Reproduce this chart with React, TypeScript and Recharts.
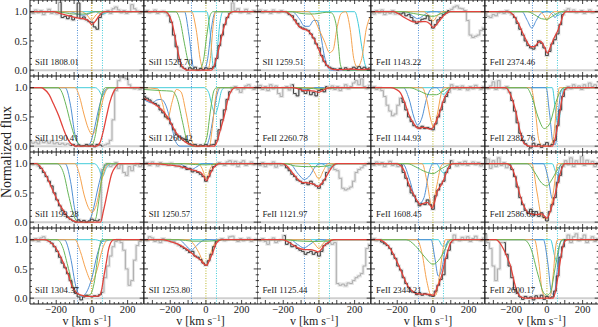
import React from 'react';
import { LineChart, Line, XAxis, YAxis, ReferenceLine } from 'recharts';

// velocity grid of the binned spectra (km/s)
const V_GRID = [-345, -330, -315, -300, -285, -270, -255, -240, -225, -210, -195, -180, -165, -150, -135, -120, -105, -90, -75, -60, -45, -30, -15, 0, 15, 30, 45, 60, 75, 90, 105, 120, 135, 150, 165, 180, 195, 210, 225, 240, 255, 270, 285];

const LABELS = [
  'SiII 1808.01', 'SiII 1526.70', 'SII 1259.51', 'FeII 1143.22', 'FeII 2374.46',
  'SiII 1190.41', 'SiII 1260.42', 'FeII 2260.78', 'FeII 1144.93', 'FeII 2382.76',
  'SiII 1193.28', 'SII 1250.57', 'FeII 1121.97', 'FeII 1608.45', 'FeII 2586.65',
  'SiII 1304.37', 'SII 1253.80', 'FeII 1125.44', 'FeII 2344.21', 'FeII 2600.17',
];

// fitted velocity window per panel (dark part of the spectrum)
const FIT = [
  [-190, 70], [-220, 135], [-190, 285], [-200, 100], [-200, 100],
  [-130, 60], [-345, 140], [-160, 50], [-190, 100], [-220, 110],
  [-310, 50], [-140, 60], [-200, 55], [-190, 110], [-220, 100],
  [-250, 60], [-160, 60], [-200, 60], [-300, 115], [-250, 110],
];

// component centres (dotted markers)
const V_BLUE = -81;
const V_ZERO = 0;
const V_CYAN = 59;

const X_DOMAIN: [number, number] = [-347, 290];
const Y_DOMAIN: [number, number] = [-0.1, 1.2];
const X_MAJOR = [-300, -200, -100, 0, 100, 200];
const X_TICKS = [-325, -300, -275, -250, -225, -200, -175, -150, -125, -100, -75, -50, -25, 0, 25, 50, 75, 100, 125, 150, 175, 200, 225, 250, 275];
const X_LABELED = [-200, 0, 200];
const Y_MAJOR = [0, 0.5, 1];
const Y_TICKS = [0, 0.1, 0.2, 0.3, 0.4, 0.5, 0.6, 0.7, 0.8, 0.9, 1, 1.1];

const FLUX_1 = [1.0, 0.97, 1.03, 0.98, 1.02, 0.95, 1.0, 1.04, 0.97, 1.0, 0.96, 1.16, 0.9, 0.92, 0.88, 0.93, 0.86, 0.9, 1.15, 0.88, 0.91, 0.86, 0.83, 0.82, 0.74, 0.7, 0.9, 0.96, 1.0, 1.02, 0.97, 1.05, 1.08, 1.03, 0.98, 1.02, 0.97, 1.0, 1.12, 1.05, 1.01, 0.97, 1.0];
const FLUX_2 = [1.0, 1.02, 0.98, 1.0, 1.03, 0.97, 1.0, 1.01, 0.98, 0.93, 0.82, 0.6, 0.4, 0.18, 0.06, 0.03, 0.0, 0.04, 0.02, 0.05, 0.0, 0.03, 0.01, 0.04, 0.02, 0.03, 0.06, 0.2, 0.42, 0.6, 0.78, 0.9, 0.97, 1.15, 1.02, 1.05, 0.98, 1.0, 1.04, 0.97, 1.0, 1.02, 0.99];
const FLUX_3 = [1.0, 1.03, 0.98, 1.02, 1.0, 0.97, 1.03, 1.0, 0.98, 1.02, 1.0, 0.98, 0.95, 0.93, 0.86, 0.8, 0.74, 0.72, 0.7, 0.68, 0.62, 0.55, 0.45, 0.38, 0.25, 0.15, 0.08, 0.05, 0.03, 0.02, 0.0, 0.03, 0.01, 0.04, 0.0, 0.02, 0.05, 0.03, 0.06, 0.03, 0.05, 0.02, 0.04];
const FLUX_4 = [1.0, 0.96, 1.02, 0.98, 1.03, 0.95, 1.0, 0.97, 1.02, 0.96, 0.97, 0.96, 0.98, 0.93, 0.95, 0.9, 0.84, 0.8, 0.83, 0.87, 0.88, 0.93, 0.85, 0.72, 0.78, 0.86, 0.9, 0.95, 0.98, 1.02, 1.04, 1.08, 1.1, 1.06, 1.05, 1.02, 0.85, 0.6, 0.56, 0.58, 0.6, 0.68, 0.72];
const FLUX_5 = [0.97, 0.92, 0.9, 0.95, 0.93, 0.98, 1.0, 0.97, 1.02, 0.98, 0.95, 0.9, 0.8, 0.7, 0.6, 0.5, 0.42, 0.38, 0.36, 0.42, 0.5, 0.46, 0.38, 0.25, 0.32, 0.45, 0.52, 0.62, 0.78, 0.95, 1.02, 1.05, 1.0, 1.03, 0.98, 1.0, 1.02, 0.97, 1.0, 1.03, 0.98, 1.0, 1.01];
const FLUX_6 = [0.08, 0.05, 0.07, 0.04, 0.1, 0.06, 0.08, 0.05, 0.09, 0.04, 0.06, 0.03, 0.05, 0.02, 0.04, 0.01, 0.03, 0.0, 0.02, 0.0, 0.01, 0.03, 0.0, 0.02, -0.01, 0.03, 0.02, 0.0, 0.02, 0.04, 0.1, 0.45, 0.95, 1.12, 1.18, 1.17, 1.15, 1.05, 1.0, 0.98, 1.0, 0.97, 1.0];
const FLUX_7 = [0.85, 0.82, 0.79, 0.75, 0.73, 0.7, 0.62, 0.57, 0.5, 0.47, 0.38, 0.28, 0.2, 0.16, 0.14, 0.12, 0.08, 0.04, 0.02, 0.03, 0.0, 0.02, 0.01, 0.03, 0.0, 0.02, 0.03, 0.1, 0.28, 0.45, 0.62, 0.8, 0.93, 1.0, 1.02, 0.97, 0.92, 0.98, 1.03, 1.05, 1.0, 0.97, 1.02];
const FLUX_8 = [1.0, 1.04, 0.97, 1.02, 0.95, 1.05, 0.98, 1.03, 0.9, 0.85, 1.0, 1.02, 0.96, 1.05, 0.9, 0.86, 0.98, 0.94, 0.9, 0.96, 0.88, 0.92, 0.86, 0.95, 0.97, 0.93, 1.02, 0.98, 1.03, 0.97, 1.02, 0.95, 1.0, 1.05, 0.98, 1.02, 1.08, 1.12, 1.05, 1.15, 1.02, 0.98, 1.04];
const FLUX_9 = [1.0, 1.02, 0.97, 1.0, 0.95, 0.85, 0.7, 0.6, 0.52, 0.55, 0.7, 0.82, 0.75, 0.62, 0.5, 0.42, 0.35, 0.33, 0.3, 0.34, 0.3, 0.32, 0.3, 0.28, 0.38, 0.5, 0.62, 0.75, 0.85, 0.92, 1.05, 0.98, 1.02, 0.97, 1.03, 1.0, 0.96, 1.02, 0.98, 1.04, 1.0, 0.97, 1.02];
const FLUX_10 = [1.0, 0.98, 1.03, 1.1, 0.97, 1.12, 1.0, 0.98, 1.02, 0.92, 0.78, 0.6, 0.4, 0.22, 0.1, 0.04, 0.0, -0.03, 0.05, 0.0, 0.03, -0.02, 0.02, 0.06, 0.0, 0.03, 0.1, 0.35, 0.62, 0.85, 0.97, 1.02, 0.98, 1.05, 1.0, 1.03, 0.97, 1.05, 1.0, 1.08, 1.02, 1.05, 1.0];
const FLUX_11 = [1.0, 0.98, 1.0, 0.96, 0.92, 0.85, 0.78, 0.7, 0.62, 0.5, 0.38, 0.28, 0.2, 0.13, 0.08, 0.05, 0.02, 0.0, 0.04, 0.01, 0.03, 0.0, 0.02, 0.05, 0.03, 0.02, 0.04, 0.9, 0.98, 1.0, 0.95, 0.98, 1.02, 0.92, 0.98, 0.85, 0.8, 0.95, 0.88, 0.97, 1.0, 0.95, 0.98];
const FLUX_12 = [1.0, 1.02, 0.97, 1.03, 1.0, 0.96, 1.02, 0.98, 1.0, 0.97, 1.01, 0.98, 0.95, 0.97, 0.93, 0.95, 0.9, 0.92, 0.86, 0.88, 0.85, 0.82, 0.78, 0.7, 0.78, 0.88, 0.95, 0.98, 1.02, 1.0, 0.97, 1.03, 1.05, 0.98, 1.04, 0.95, 1.02, 1.05, 0.97, 1.0, 1.03, 0.98, 1.0];
const FLUX_13 = [1.0, 0.97, 1.02, 0.95, 1.0, 0.98, 1.03, 0.94, 1.0, 0.97, 0.98, 0.93, 0.88, 0.82, 0.78, 0.72, 0.7, 0.66, 0.68, 0.64, 0.7, 0.65, 0.62, 0.58, 0.65, 0.72, 0.85, 0.92, 0.95, 0.9, 0.88, 0.75, 0.58, 0.55, 0.57, 0.6, 0.7, 0.85, 0.9, 0.93, 0.97, 1.0, 1.02];
const FLUX_14 = [1.0, 0.97, 1.03, 0.98, 1.02, 0.95, 1.0, 1.04, 0.97, 1.0, 0.95, 0.98, 0.85, 0.75, 0.62, 0.5, 0.45, 0.35, 0.28, 0.32, 0.3, 0.38, 0.3, 0.22, 0.45, 0.55, 0.65, 0.7, 0.85, 0.92, 1.05, 1.0, 0.96, 1.02, 0.98, 1.04, 0.97, 1.0, 1.03, 0.98, 1.02, 0.96, 1.0];
const FLUX_15 = [1.0, 1.08, 0.92, 1.05, 0.95, 1.1, 0.97, 1.02, 0.93, 0.98, 0.9, 0.78, 0.6, 0.42, 0.3, 0.2, 0.15, 0.22, 0.12, 0.18, 0.1, 0.16, 0.08, 0.02, 0.18, 0.3, 0.42, 0.68, 0.8, 0.95, 1.05, 0.98, 1.1, 0.95, 1.05, 1.0, 1.12, 0.97, 1.06, 1.0, 1.04, 0.95, 1.02];
const FLUX_16 = [1.0, 0.98, 1.02, 0.97, 1.03, 1.05, 1.0, 0.97, 0.94, 0.88, 0.8, 0.7, 0.6, 0.52, 0.42, 0.3, 0.18, 0.08, 0.02, -0.03, 0.02, 0.05, 0.03, 0.02, 0.04, 0.03, 0.06, 0.1, 0.35, 0.55, 0.72, 0.88, 0.97, 1.0, 0.95, 0.82, 0.5, 0.22, 0.3, 0.65, 0.9, 0.97, 1.0];
const FLUX_17 = [1.0, 0.98, 1.05, 1.03, 0.97, 1.0, 0.95, 1.02, 0.98, 1.0, 0.96, 0.97, 0.93, 0.9, 0.88, 0.85, 0.82, 0.78, 0.8, 0.72, 0.7, 0.66, 0.6, 0.56, 0.64, 0.75, 0.88, 0.97, 1.0, 1.02, 0.98, 1.0, 1.05, 1.06, 1.0, 0.97, 1.02, 0.98, 1.0, 1.03, 0.97, 1.0, 1.01];
const FLUX_18 = [1.0, 0.98, 1.02, 0.97, 0.92, 1.0, 1.03, 0.95, 0.98, 1.0, 1.07, 0.92, 0.95, 0.88, 0.9, 0.85, 0.82, 0.8, 0.75, 0.78, 0.8, 0.75, 0.78, 0.72, 0.8, 0.9, 0.93, 0.95, 0.92, 0.95, 0.25, 0.22, 0.24, 0.21, 0.26, 0.25, 0.3, 0.35, 0.38, 0.42, 0.55, 0.85, 0.92];
const FLUX_19 = [1.0, 1.02, 0.98, 1.0, 0.96, 0.93, 0.9, 0.85, 0.75, 0.68, 0.55, 0.48, 0.35, 0.25, 0.18, 0.12, 0.1, 0.06, 0.09, 0.05, 0.08, 0.06, 0.04, 0.03, 0.12, 0.22, 0.32, 0.4, 0.68, 0.82, 0.95, 1.08, 1.0, 0.98, 1.04, 1.0, 1.05, 0.97, 1.02, 1.06, 1.0, 0.98, 1.03];
const FLUX_20 = [1.08, 0.95, 0.85, 0.55, 0.3, 0.5, 0.95, 0.95, 0.75, 0.55, 0.35, 0.15, 0.08, 0.02, -0.02, 0.03, 0.0, 0.02, -0.03, 0.04, 0.0, 0.05, -0.02, 0.03, 0.0, 0.02, 0.12, 0.38, 0.7, 0.88, 1.0, 1.08, 0.95, 1.05, 1.1, 0.98, 1.02, 1.08, 0.95, 1.0, 1.05, 0.97, 1.02];

// total model (red) and components, as [velocity, flux] pairs
const RED_1 = [[-350, 1], [-215, 1], [-180, 0.97], [-130, 0.93], [-91, 0.9], [-50, 0.88], [-20, 0.85], [-2, 0.78], [20, 0.84], [40, 0.93], [60, 0.99], [75, 1], [295, 1]];
const GREEN_1 = [[-350, 1], [-200, 1], [-150, 0.98], [-100, 0.96], [-50, 0.96], [-10, 0.98], [20, 1], [295, 1]];
const ORANGE_1 = [[-350, 1], [-60, 1], [-30, 0.95], [-2, 0.86], [25, 0.95], [50, 1], [295, 1]];
const BLUE_1 = [[-350, 1], [-120, 1], [-85, 0.96], [-50, 0.94], [-20, 0.96], [10, 1], [295, 1]];
const CYAN_1 = [[-350, 1], [20, 1], [45, 0.97], [60, 0.96], [80, 0.98], [100, 1], [295, 1]];

const RED_2 = [[-350, 1], [-230, 1], [-205, 0.93], [-185, 0.75], [-169, 0.5], [-150, 0.22], [-132, 0.05], [-115, 0.01], [-100, 0], [30, 0], [40, 0.03], [55, 0.16], [70, 0.34], [84, 0.52], [100, 0.72], [120, 0.9], [140, 0.99], [155, 1], [295, 1]];
const GREEN_2 = [[-350, 1], [-170, 1], [-145, 0.85], [-120, 0.45], [-95, 0.1], [-70, 0.01], [-40, 0], [-15, 0.15], [5, 0.6], [25, 0.95], [40, 1], [295, 1]];
const ORANGE_2 = [[-350, 1], [-80, 1], [-55, 0.7], [-30, 0.15], [-10, 0], [10, 0], [25, 0.2], [40, 0.75], [55, 1], [295, 1]];
const BLUE_2 = [[-350, 1], [-120, 1], [-95, 0.6], [-70, 0.05], [-50, 0], [-10, 0], [10, 0.2], [30, 0.7], [45, 0.95], [55, 1], [295, 1]];
const CYAN_2 = [[-350, 1], [5, 1], [25, 0.6], [40, 0.08], [50, 0.03], [62, 0.3], [78, 0.8], [95, 1], [295, 1]];

const RED_3 = [[-350, 1], [-190, 1], [-165, 0.96], [-140, 0.87], [-115, 0.76], [-95, 0.71], [-70, 0.69], [-50, 0.64], [-25, 0.52], [-3, 0.37], [15, 0.24], [35, 0.12], [55, 0.05], [81, 0.01], [120, 0.01], [180, 0.02], [230, 0.01], [295, 0.02]];
const GREEN_3 = [[-350, 1], [-150, 1], [-100, 0.97], [-50, 0.96], [0, 0.97], [40, 0.99], [70, 0.98], [95, 0.8], [110, 0.4], [120, 0.1], [135, 0], [295, 0]];
const ORANGE_3 = [[-350, 1], [-60, 1], [-30, 0.9], [0, 0.7], [30, 0.5], [60, 0.3], [80, 0.35], [100, 0.7], [125, 0.97], [150, 1], [175, 0.7], [195, 0.2], [215, 0.05], [240, 0.2], [265, 0.7], [295, 0.95]];
const BLUE_3 = [[-350, 1], [-150, 1], [-110, 0.88], [-80, 0.75], [-55, 0.75], [-30, 0.85], [-10, 0.85], [10, 0.6], [30, 0.25], [50, 0.05], [70, 0], [295, 0]];
const CYAN_3 = [[-350, 1], [200, 1], [220, 0.8], [240, 0.4], [258, 0.1], [270, 0.02], [295, 0]];

const RED_4 = [[-350, 1], [-220, 1], [-190, 0.96], [-160, 0.9], [-130, 0.85], [-100, 0.82], [-70, 0.83], [-40, 0.83], [-20, 0.8], [4, 0.73], [25, 0.8], [45, 0.88], [70, 0.96], [98, 1], [295, 1]];
const GREEN_4 = [[-350, 1], [-170, 1], [-110, 0.97], [-50, 0.94], [0, 0.92], [40, 0.96], [80, 1], [295, 1]];
const ORANGE_4 = [[-350, 1], [-50, 1], [-25, 0.94], [0, 0.84], [25, 0.93], [50, 1], [295, 1]];
const BLUE_4 = [[-350, 1], [-150, 1], [-115, 0.93], [-85, 0.88], [-55, 0.93], [-25, 0.99], [0, 1], [295, 1]];
const CYAN_4 = [[-350, 1], [20, 1], [45, 0.97], [60, 0.96], [80, 0.98], [100, 1], [295, 1]];

const RED_5 = [[-350, 1], [-215, 1], [-190, 0.95], [-160, 0.8], [-130, 0.6], [-105, 0.45], [-90, 0.4], [-70, 0.4], [-50, 0.47], [-35, 0.49], [-15, 0.4], [3, 0.29], [20, 0.4], [40, 0.55], [60, 0.67], [78, 0.82], [95, 0.97], [110, 1], [295, 1]];
const GREEN_5 = [[-350, 1], [-110, 1], [-70, 0.95], [-30, 0.88], [0, 0.87], [30, 0.92], [70, 0.99], [90, 1], [295, 1]];
const ORANGE_5 = [[-350, 1], [-40, 1], [-20, 0.95], [0, 0.86], [20, 0.95], [40, 1], [295, 1]];
const BLUE_5 = [[-350, 1], [-140, 1], [-110, 0.85], [-85, 0.72], [-60, 0.85], [-30, 0.98], [0, 1], [30, 0.96], [45, 0.9], [60, 0.95], [80, 1], [295, 1]];
const CYAN_5 = [[-350, 1], [30, 1], [50, 0.95], [60, 0.93], [75, 0.96], [100, 1], [295, 1]];

const RED_6 = [[-350, 1], [-285, 1], [-270, 0.98], [-240, 0.88], [-215, 0.72], [-186, 0.52], [-160, 0.3], [-140, 0.15], [-120, 0.05], [-100, 0.01], [-80, 0], [25, 0], [45, 0.06], [63, 0.25], [81, 0.5], [100, 0.75], [120, 0.92], [142, 1], [295, 1]];
const GREEN_6 = [[-350, 1], [-190, 1], [-168, 0.92], [-145, 0.7], [-120, 0.4], [-95, 0.15], [-70, 0.03], [-50, 0], [0, 0.02], [20, 0.2], [40, 0.6], [60, 0.92], [75, 1], [295, 1]];
const ORANGE_6 = [[-350, 1], [-95, 1], [-70, 0.85], [-45, 0.55], [-20, 0.3], [2, 0.2], [25, 0.32], [50, 0.65], [75, 0.92], [95, 1], [295, 1]];
const BLUE_6 = [[-350, 1], [-150, 1], [-120, 0.7], [-95, 0.2], [-70, 0.02], [-30, 0], [-10, 0.05], [10, 0.25], [35, 0.6], [60, 0.88], [80, 0.98], [95, 1], [295, 1]];
const CYAN_6 = [[-350, 1], [20, 1], [40, 0.95], [59, 0.86], [78, 0.95], [100, 1], [295, 1]];

const RED_7 = [[-350, 0.82], [-310, 0.76], [-275, 0.69], [-250, 0.63], [-216, 0.5], [-195, 0.39], [-180, 0.3], [-155, 0.18], [-131, 0.11], [-110, 0.06], [-84, 0.02], [-60, 0], [45, 0], [60, 0.06], [80, 0.27], [103, 0.52], [125, 0.82], [145, 0.96], [165, 1], [295, 1]];
const GREEN_7 = [[-350, 0.97], [-250, 0.95], [-190, 0.94], [-160, 0.8], [-130, 0.4], [-105, 0.08], [-80, 0], [-20, 0], [5, 0.15], [25, 0.6], [45, 0.95], [60, 1], [295, 1]];
const ORANGE_7 = [[-350, 1], [-270, 0.98], [-245, 0.75], [-216, 0.45], [-190, 0.75], [-165, 0.97], [-140, 0.93], [-110, 0.55], [-80, 0.1], [-55, 0], [20, 0], [35, 0.3], [55, 0.85], [70, 1], [295, 1]];
const BLUE_7 = [[-350, 0.8], [-300, 0.74], [-275, 0.79], [-250, 0.8], [-225, 0.7], [-195, 0.38], [-170, 0.08], [-145, 0], [0, 0], [20, 0.15], [40, 0.48], [60, 0.85], [80, 1], [295, 1]];
const CYAN_7 = [[-350, 1], [-10, 1], [15, 0.92], [35, 0.68], [52, 0.55], [68, 0.68], [88, 0.95], [105, 1], [295, 1]];

const RED_8 = [[-350, 1], [-150, 1], [-115, 0.98], [-85, 0.95], [-55, 0.95], [-25, 0.94], [0, 0.92], [20, 0.95], [45, 0.99], [70, 1], [295, 1]];
const GREEN_8 = [[-350, 1], [-120, 1], [-60, 0.99], [0, 0.98], [60, 0.99], [100, 1], [295, 1]];
const ORANGE_8 = [[-350, 1], [-40, 1], [-15, 0.98], [0, 0.96], [20, 0.98], [40, 1], [295, 1]];
const BLUE_8 = [[-350, 1], [-130, 1], [-100, 0.98], [-80, 0.97], [-55, 0.98], [-30, 1], [295, 1]];
const CYAN_8 = [[-350, 1], [30, 1], [60, 0.99], [90, 1], [295, 1]];

const RED_9 = [[-350, 1], [-235, 1], [-205, 0.97], [-182, 0.91], [-160, 0.76], [-131, 0.51], [-110, 0.4], [-86, 0.31], [-50, 0.32], [-10, 0.29], [15, 0.4], [37, 0.57], [60, 0.79], [82, 0.92], [103, 1], [295, 1]];
const GREEN_9 = [[-350, 1], [-130, 1], [-80, 0.95], [-20, 0.88], [20, 0.88], [60, 0.95], [95, 1], [295, 1]];
const ORANGE_9 = [[-350, 1], [-60, 1], [-35, 0.8], [-12, 0.45], [5, 0.32], [25, 0.55], [45, 0.88], [60, 1], [295, 1]];
const BLUE_9 = [[-350, 1], [-165, 1], [-135, 0.82], [-105, 0.48], [-85, 0.36], [-62, 0.48], [-35, 0.82], [-10, 0.98], [5, 1], [295, 1]];
const CYAN_9 = [[-350, 1], [20, 1], [45, 0.92], [60, 0.88], [75, 0.93], [100, 1], [295, 1]];

const RED_10 = [[-350, 1], [-235, 1], [-222, 0.98], [-200, 0.85], [-175, 0.6], [-150, 0.25], [-129, 0.05], [-110, 0.01], [-95, 0], [30, 0], [45, 0.12], [68, 0.5], [85, 0.82], [100, 0.96], [115, 1], [295, 1]];
const GREEN_10 = [[-350, 1], [-115, 1], [-85, 0.85], [-50, 0.5], [-15, 0.3], [15, 0.38], [50, 0.75], [80, 0.96], [98, 1], [295, 1]];
const ORANGE_10 = [[-350, 1], [-90, 1], [-65, 0.6], [-45, 0.1], [-25, 0], [15, 0], [35, 0.12], [55, 0.7], [70, 1], [295, 1]];
const BLUE_10 = [[-350, 1], [-5, 1], [15, 0.55], [35, 0.05], [48, 0.03], [62, 0.5], [80, 0.95], [92, 1], [295, 1]];
const CYAN_10 = [[-350, 1], [30, 1], [48, 0.6], [62, 0.35], [76, 0.6], [95, 1], [295, 1]];

const RED_11 = [[-350, 1], [-310, 1], [-289, 0.95], [-260, 0.82], [-233, 0.64], [-210, 0.48], [-186, 0.33], [-160, 0.2], [-139, 0.1], [-120, 0.05], [-102, 0.02], [-80, 0], [48, 0], [65, 0.2], [86, 0.5], [110, 0.82], [133, 0.95], [150, 1], [295, 1]];
const GREEN_11 = [[-350, 1], [-195, 1], [-160, 0.85], [-130, 0.45], [-100, 0.1], [-75, 0], [0, 0], [20, 0.05], [40, 0.4], [60, 0.85], [78, 1], [295, 1]];
const ORANGE_11 = [[-350, 1], [-95, 1], [-70, 0.82], [-45, 0.48], [-20, 0.25], [2, 0.17], [25, 0.3], [50, 0.65], [75, 0.92], [95, 1], [295, 1]];
const BLUE_11 = [[-350, 1], [-150, 1], [-120, 0.7], [-95, 0.2], [-70, 0.02], [-30, 0], [-10, 0.05], [10, 0.25], [35, 0.6], [60, 0.88], [80, 0.98], [95, 1], [295, 1]];
const CYAN_11 = [[-350, 1], [15, 1], [38, 0.92], [59, 0.78], [80, 0.92], [105, 1], [295, 1]];

const RED_12 = [[-350, 1], [-290, 1], [-220, 0.98], [-141, 0.95], [-85, 0.9], [-50, 0.87], [-29, 0.85], [-12, 0.78], [3, 0.71], [20, 0.8], [40, 0.92], [60, 0.98], [75, 1], [295, 1]];
const GREEN_12 = [[-350, 1], [-130, 1], [-60, 0.985], [0, 0.98], [50, 0.99], [90, 1], [295, 1]];
const ORANGE_12 = [[-350, 1], [-45, 1], [-22, 0.92], [2, 0.75], [25, 0.92], [45, 1], [295, 1]];
const BLUE_12 = [[-350, 1], [-150, 1], [-115, 0.95], [-82, 0.9], [-50, 0.95], [-20, 1], [295, 1]];
const CYAN_12 = [[-350, 1], [25, 1], [55, 0.985], [90, 1], [295, 1]];

const RED_13 = [[-350, 1], [-205, 1], [-180, 0.96], [-150, 0.85], [-120, 0.74], [-95, 0.68], [-60, 0.67], [-30, 0.65], [-5, 0.61], [20, 0.68], [45, 0.8], [70, 0.93], [100, 1], [295, 1]];
const GREEN_13 = [[-350, 1], [-190, 1], [-130, 0.96], [-60, 0.95], [0, 0.95], [60, 0.97], [110, 1], [295, 1]];
const ORANGE_13 = [[-350, 1], [-60, 1], [-30, 0.88], [0, 0.74], [25, 0.88], [50, 1], [295, 1]];
const BLUE_13 = [[-350, 1], [-165, 1], [-115, 0.82], [-82, 0.73], [-50, 0.8], [-20, 0.95], [10, 1], [295, 1]];
const CYAN_13 = [[-350, 1], [15, 1], [45, 0.95], [60, 0.94], [80, 0.96], [110, 1], [295, 1]];

const RED_14 = [[-350, 1], [-205, 1], [-182, 0.97], [-160, 0.87], [-145, 0.73], [-125, 0.58], [-107, 0.47], [-85, 0.35], [-70, 0.3], [-50, 0.32], [-32, 0.34], [-15, 0.29], [-4, 0.24], [10, 0.35], [24, 0.52], [45, 0.63], [61, 0.73], [80, 0.88], [98, 0.98], [115, 1], [295, 1]];
const GREEN_14 = [[-350, 1], [-140, 1], [-100, 0.95], [-40, 0.86], [0, 0.83], [40, 0.9], [80, 0.97], [110, 1], [295, 1]];
const ORANGE_14 = [[-350, 1], [-60, 1], [-35, 0.72], [-5, 0.26], [20, 0.6], [45, 0.95], [60, 1], [295, 1]];
const BLUE_14 = [[-350, 1], [-170, 1], [-130, 0.72], [-100, 0.4], [-75, 0.32], [-50, 0.42], [-22, 0.85], [0, 1], [295, 1]];
const CYAN_14 = [[-350, 1], [20, 1], [42, 0.9], [60, 0.84], [78, 0.9], [100, 1], [295, 1]];

const RED_15 = [[-350, 1], [-225, 1], [-200, 0.95], [-175, 0.75], [-150, 0.45], [-125, 0.25], [-100, 0.15], [-60, 0.13], [-30, 0.14], [0, 0.07], [20, 0.2], [40, 0.4], [65, 0.72], [85, 0.93], [100, 1], [295, 1]];
const GREEN_15 = [[-350, 1], [-110, 1], [-70, 0.86], [-30, 0.67], [0, 0.62], [30, 0.74], [70, 0.95], [95, 1], [295, 1]];
const ORANGE_15 = [[-350, 1], [-85, 1], [-55, 0.5], [-30, 0.1], [-5, 0.05], [20, 0.2], [40, 0.6], [60, 1], [295, 1]];
const BLUE_15 = [[-350, 1], [-20, 1], [10, 0.7], [30, 0.4], [45, 0.45], [65, 0.85], [80, 1], [295, 1]];
const CYAN_15 = [[-350, 1], [30, 1], [50, 0.85], [62, 0.8], [75, 0.85], [95, 1], [295, 1]];

const RED_16 = [[-350, 1], [-265, 1], [-235, 0.96], [-205, 0.87], [-176, 0.71], [-150, 0.53], [-130, 0.38], [-111, 0.2], [-90, 0.1], [-60, 0.05], [-30, 0.03], [0, 0.03], [40, 0.04], [55, 0.15], [64, 0.32], [80, 0.6], [93, 0.83], [110, 0.97], [125, 1], [295, 1]];
const GREEN_16 = [[-350, 1], [-195, 1], [-165, 0.88], [-135, 0.55], [-105, 0.2], [-75, 0.06], [-40, 0.04], [-10, 0.06], [15, 0.3], [35, 0.75], [55, 1], [295, 1]];
const ORANGE_16 = [[-350, 1], [-95, 1], [-65, 0.8], [-35, 0.5], [0, 0.28], [30, 0.5], [60, 0.85], [90, 1], [295, 1]];
const BLUE_16 = [[-350, 1], [-155, 1], [-120, 0.7], [-90, 0.2], [-60, 0.03], [-35, 0.08], [0, 0.35], [30, 0.75], [55, 0.96], [70, 1], [295, 1]];
const CYAN_16 = [[-350, 1], [20, 1], [45, 0.98], [60, 0.97], [80, 0.98], [120, 1], [295, 1]];

const RED_17 = [[-350, 1], [-250, 1], [-200, 0.97], [-160, 0.93], [-130, 0.88], [-104, 0.83], [-80, 0.77], [-57, 0.71], [-30, 0.65], [-10, 0.58], [3, 0.56], [20, 0.65], [37, 0.77], [55, 0.92], [70, 0.98], [90, 1], [295, 1]];
const GREEN_17 = [[-350, 1], [-150, 1], [-80, 0.975], [0, 0.975], [60, 0.985], [90, 1], [295, 1]];
const ORANGE_17 = [[-350, 1], [-95, 1], [-70, 0.93], [-40, 0.78], [-15, 0.62], [3, 0.57], [20, 0.7], [40, 0.88], [60, 0.98], [75, 1], [295, 1]];
const BLUE_17 = [[-350, 1], [-150, 1], [-112, 0.9], [-82, 0.82], [-52, 0.9], [-20, 0.98], [0, 1], [295, 1]];
const CYAN_17 = [[-350, 1], [20, 1], [55, 0.98], [90, 1], [295, 1]];

const RED_18 = [[-350, 1], [-205, 1], [-170, 0.96], [-140, 0.9], [-110, 0.85], [-80, 0.83], [-50, 0.83], [-20, 0.81], [-3, 0.79], [15, 0.84], [30, 0.9], [55, 0.96], [80, 1], [295, 1]];
const GREEN_18 = [[-350, 1], [-200, 1], [-120, 0.98], [-50, 0.97], [0, 0.97], [50, 0.98], [100, 1], [295, 1]];
const ORANGE_18 = [[-350, 1], [-50, 1], [-25, 0.93], [0, 0.85], [20, 0.92], [45, 1], [295, 1]];
const BLUE_18 = [[-350, 1], [-160, 1], [-120, 0.92], [-85, 0.86], [-50, 0.92], [-20, 0.98], [0, 1], [295, 1]];
const CYAN_18 = [[-350, 1], [10, 1], [50, 0.97], [90, 1], [295, 1]];

const RED_19 = [[-350, 1], [-300, 1], [-270, 0.95], [-240, 0.85], [-210, 0.68], [-182, 0.49], [-160, 0.33], [-145, 0.23], [-125, 0.15], [-107, 0.1], [-70, 0.07], [-30, 0.07], [4, 0.05], [24, 0.19], [40, 0.3], [52, 0.42], [65, 0.6], [80, 0.77], [100, 0.95], [120, 1], [295, 1]];
const GREEN_19 = [[-350, 1], [-150, 1], [-100, 0.9], [-50, 0.72], [0, 0.58], [40, 0.68], [70, 0.85], [100, 1], [295, 1]];
const ORANGE_19 = [[-350, 1], [-90, 1], [-60, 0.75], [-35, 0.3], [-10, 0.05], [15, 0.05], [35, 0.35], [55, 0.8], [70, 1], [295, 1]];
const BLUE_19 = [[-350, 1], [-10, 1], [10, 0.7], [30, 0.38], [50, 0.5], [70, 0.85], [90, 1], [295, 1]];
const CYAN_19 = [[-350, 1], [30, 1], [50, 0.9], [60, 0.88], [75, 0.93], [100, 1], [295, 1]];

const RED_20 = [[-350, 1], [-285, 1], [-265, 0.95], [-240, 0.82], [-220, 0.68], [-203, 0.54], [-185, 0.3], [-166, 0.1], [-145, 0.02], [-120, 0], [35, 0], [50, 0.15], [68, 0.5], [85, 0.82], [100, 0.97], [115, 1], [295, 1]];
const GREEN_20 = [[-350, 1], [-130, 1], [-90, 0.85], [-50, 0.4], [-20, 0.1], [0, 0.05], [20, 0.1], [45, 0.5], [70, 0.9], [90, 1], [295, 1]];
const ORANGE_20 = [[-350, 1], [-70, 1], [-45, 0.6], [-25, 0.1], [0, 0], [20, 0.05], [35, 0.4], [50, 0.9], [60, 1], [295, 1]];
const BLUE_20 = [[-350, 1], [-20, 1], [5, 0.6], [25, 0.1], [40, 0.05], [55, 0.4], [70, 0.9], [85, 1], [295, 1]];
const CYAN_20 = [[-350, 1], [20, 1], [45, 0.7], [60, 0.6], [75, 0.7], [100, 1], [295, 1]];

const FLUXES = [FLUX_1, FLUX_2, FLUX_3, FLUX_4, FLUX_5, FLUX_6, FLUX_7, FLUX_8, FLUX_9, FLUX_10, FLUX_11, FLUX_12, FLUX_13, FLUX_14, FLUX_15, FLUX_16, FLUX_17, FLUX_18, FLUX_19, FLUX_20];
const REDS = [RED_1, RED_2, RED_3, RED_4, RED_5, RED_6, RED_7, RED_8, RED_9, RED_10, RED_11, RED_12, RED_13, RED_14, RED_15, RED_16, RED_17, RED_18, RED_19, RED_20];
const GREENS = [GREEN_1, GREEN_2, GREEN_3, GREEN_4, GREEN_5, GREEN_6, GREEN_7, GREEN_8, GREEN_9, GREEN_10, GREEN_11, GREEN_12, GREEN_13, GREEN_14, GREEN_15, GREEN_16, GREEN_17, GREEN_18, GREEN_19, GREEN_20];
const ORANGES = [ORANGE_1, ORANGE_2, ORANGE_3, ORANGE_4, ORANGE_5, ORANGE_6, ORANGE_7, ORANGE_8, ORANGE_9, ORANGE_10, ORANGE_11, ORANGE_12, ORANGE_13, ORANGE_14, ORANGE_15, ORANGE_16, ORANGE_17, ORANGE_18, ORANGE_19, ORANGE_20];
const BLUES = [BLUE_1, BLUE_2, BLUE_3, BLUE_4, BLUE_5, BLUE_6, BLUE_7, BLUE_8, BLUE_9, BLUE_10, BLUE_11, BLUE_12, BLUE_13, BLUE_14, BLUE_15, BLUE_16, BLUE_17, BLUE_18, BLUE_19, BLUE_20];
const CYANS = [CYAN_1, CYAN_2, CYAN_3, CYAN_4, CYAN_5, CYAN_6, CYAN_7, CYAN_8, CYAN_9, CYAN_10, CYAN_11, CYAN_12, CYAN_13, CYAN_14, CYAN_15, CYAN_16, CYAN_17, CYAN_18, CYAN_19, CYAN_20];

// layout (px)
const X0 = 30;
const Y0 = 0.3;
const PW = 113.7;
const PH = 76;
const FONT = '"Liberation Serif", "DejaVu Serif", serif';
const C = {
  red: '#e2433c', green: '#65b556', orange: '#f5a24d', blue: '#4f8fd4', cyan: '#40cbd9',
  olive: '#bab526', dark: '#444444', light: '#adadad', halo: '#e6e6e6', zero: '#cfcfcf',
};

const toRows = (pts: number[][]) => pts.map(([v, f]) => ({ v, f }));
const fmtV = (v: number) => (v < 0 ? `\u2212${-v}` : `${v}`);

const xTick = (side: 'top' | 'bottom', labels: boolean) => (p: any) => {
  const v = p.payload.value;
  const len = X_MAJOR.includes(v) ? 4 : 2;
  const dir = side === 'bottom' ? -1 : 1;
  return (
    <g>
      <line x1={p.x} y1={p.y} x2={p.x} y2={p.y + dir * len} stroke="#111" strokeWidth={0.8} />
      {labels && X_LABELED.includes(v) ? (
        <text x={p.x} y={p.y + 8.8} textAnchor="middle" fontFamily={FONT} fontSize={10.5} fill="#222">{fmtV(v)}</text>
      ) : null}
    </g>
  );
};

const yTick = (side: 'left' | 'right', labels: boolean) => (p: any) => {
  const v = p.payload.value;
  const len = Y_MAJOR.includes(v) ? 4 : 2;
  const dir = side === 'left' ? 1 : -1;
  return (
    <g>
      <line x1={p.x} y1={p.y} x2={p.x + dir * len} y2={p.y} stroke="#111" strokeWidth={0.8} />
      {labels && Y_MAJOR.includes(v) ? (
        <text x={p.x - 2.5} y={p.y + 3.6} textAnchor="end" fontFamily={FONT} fontSize={10.5} fill="#222">{v.toFixed(1)}</text>
      ) : null}
    </g>
  );
};

function Panel({ i }: { i: number }) {
  const row = Math.floor(i / 5);
  const col = i % 5;
  const yw = col === 0 ? 30 : 0;
  const xh = row === 3 ? 23 : 0;
  const left = col === 0 ? 0 : X0 + col * PW;
  const top = Y0 + row * PH;
  const flux = FLUXES[i];
  const rows = V_GRID.map((v, k) => ({ v, f: flux[k] }));
  const [lo, hi] = FIT[i];
  const fitRows = rows.filter((d) => d.v >= lo && d.v <= hi);
  const axis = { stroke: '#111', strokeWidth: 1 };
  return (
    <div style={{ position: 'absolute', left, top }}>
      <LineChart width={PW + yw} height={PH + xh} data={rows} margin={{ top: 0, right: 0, bottom: xh, left: yw }}>
        <XAxis xAxisId={0} dataKey="v" type="number" domain={X_DOMAIN} allowDataOverflow ticks={X_TICKS} interval={0} orientation="bottom" mirror height={10} tickSize={0} tickMargin={0} axisLine={axis} tickLine={false} tick={xTick('bottom', row === 3)} />
        <XAxis xAxisId="t" dataKey="v" type="number" domain={X_DOMAIN} allowDataOverflow ticks={X_TICKS} interval={0} orientation="top" mirror height={10} tickSize={0} tickMargin={0} axisLine={axis} tickLine={false} tick={xTick('top', false)} />
        <YAxis yAxisId={0} type="number" domain={Y_DOMAIN} allowDataOverflow ticks={Y_TICKS} interval={0} orientation="left" mirror width={10} tickSize={0} tickMargin={0} axisLine={axis} tickLine={false} tick={yTick('left', col === 0)} />
        <YAxis yAxisId="r" type="number" domain={Y_DOMAIN} allowDataOverflow ticks={Y_TICKS} interval={0} orientation="right" mirror width={10} tickSize={0} tickMargin={0} axisLine={axis} tickLine={false} tick={yTick('right', false)} />
        <ReferenceLine y={0} stroke={C.zero} strokeWidth={2} />
        <ReferenceLine x={V_BLUE} stroke={C.blue} strokeWidth={1} strokeDasharray="1 1.5" />
        <ReferenceLine x={V_CYAN} stroke={C.cyan} strokeWidth={1} strokeDasharray="1 1.5" />
        {col === 0 ? <ReferenceLine x={V_ZERO - 3} stroke={C.orange} strokeWidth={1} strokeDasharray="1 1.5" /> : null}
        <ReferenceLine x={V_ZERO} stroke={C.olive} strokeWidth={1} strokeDasharray="1 1.5" />
        <Line dataKey="f" type="step" stroke={C.halo} strokeWidth={3} dot={false} activeDot={false} isAnimationActive={false} />
        <Line dataKey="f" type="step" stroke={C.light} strokeWidth={1} dot={false} activeDot={false} isAnimationActive={false} />
        <Line data={toRows(CYANS[i])} dataKey="f" type="monotone" stroke={C.cyan} strokeWidth={1} dot={false} activeDot={false} isAnimationActive={false} />
        <Line data={toRows(BLUES[i])} dataKey="f" type="monotone" stroke={C.blue} strokeWidth={1} dot={false} activeDot={false} isAnimationActive={false} />
        <Line data={toRows(ORANGES[i])} dataKey="f" type="monotone" stroke={C.orange} strokeWidth={1} dot={false} activeDot={false} isAnimationActive={false} />
        <Line data={toRows(GREENS[i])} dataKey="f" type="monotone" stroke={C.green} strokeWidth={1} dot={false} activeDot={false} isAnimationActive={false} />
        <Line data={fitRows} dataKey="f" type="step" stroke={C.dark} strokeWidth={1} dot={false} activeDot={false} isAnimationActive={false} />
        <Line data={toRows(REDS[i])} dataKey="f" type="monotone" stroke={C.red} strokeWidth={1.3} dot={false} activeDot={false} isAnimationActive={false} />
      </LineChart>
    </div>
  );
}

export default function App() {
  const ids = LABELS.map((_, k) => k);
  return (
    <div style={{ position: 'absolute', left: 0, top: 0, width: 598, height: 327, background: '#fff', overflow: 'hidden' }}>
      {ids.map((k) => <Panel key={k} i={k} />)}
      <svg width={598} height={327} style={{ position: 'absolute', left: 0, top: 0, pointerEvents: 'none' }}>
        {LABELS.map((lab, k) => (
          <text key={lab} x={X0 + (k % 5) * PW + 5} y={Y0 + Math.floor(k / 5) * PH + 64.9} fontFamily={FONT} fontSize={8.8} fill="#222">{lab}</text>
        ))}
        {[0, 1, 2, 3, 4].map((c) => (
          <text key={c} x={X0 + c * PW + PW / 2} y={325} textAnchor="middle" fontFamily={FONT} fontSize={12} fill="#222">
            v [km s<tspan dy={-4.5} fontSize={8}>{'\u22121'}</tspan><tspan dy={4.5}>]</tspan>
          </text>
        ))}
        <text x={0} y={0} transform="translate(11,152) rotate(-90)" textAnchor="middle" fontFamily={FONT} fontSize={14} fill="#222">Normalized flux</text>
      </svg>
    </div>
  );
}
